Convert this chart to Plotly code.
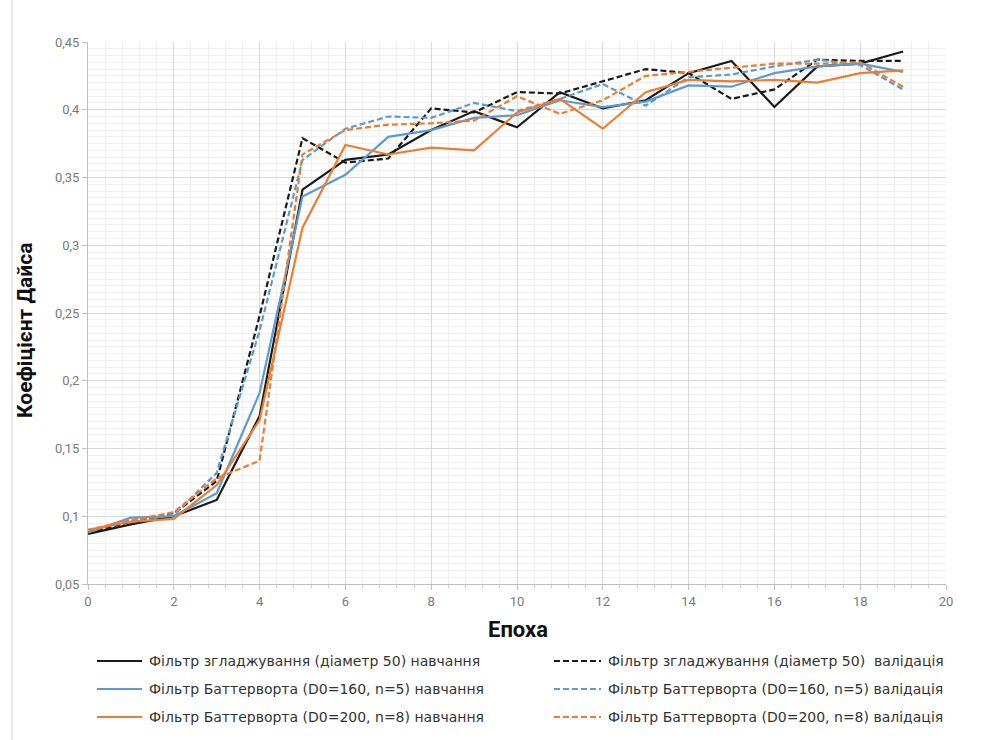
import plotly.graph_objects as go

# Epochs and Dice coefficient per model (training / validation)
epochs = list(range(20))

smooth_train = [0.087, 0.094, 0.100, 0.112, 0.174, 0.341, 0.363, 0.367, 0.385, 0.399,
                0.387, 0.413, 0.401, 0.407, 0.427, 0.436, 0.402, 0.432, 0.434, 0.443]
smooth_val = [0.088, 0.096, 0.102, 0.126, 0.248, 0.379, 0.361, 0.364, 0.401, 0.398,
              0.413, 0.412, 0.421, 0.430, 0.427, 0.408, 0.415, 0.437, 0.436, 0.436]
bw160_train = [0.088, 0.099, 0.100, 0.117, 0.191, 0.336, 0.352, 0.380, 0.385, 0.394,
               0.396, 0.407, 0.402, 0.406, 0.418, 0.417, 0.427, 0.432, 0.434, 0.428]
bw160_val = [0.089, 0.097, 0.101, 0.132, 0.237, 0.363, 0.386, 0.395, 0.394, 0.405,
             0.399, 0.408, 0.419, 0.403, 0.424, 0.426, 0.432, 0.437, 0.433, 0.415]
bw200_train = [0.090, 0.096, 0.098, 0.123, 0.171, 0.313, 0.374, 0.367, 0.372, 0.370,
               0.398, 0.408, 0.386, 0.413, 0.422, 0.421, 0.422, 0.420, 0.427, 0.429]
bw200_val = [0.090, 0.097, 0.103, 0.128, 0.141, 0.367, 0.385, 0.389, 0.390, 0.392,
             0.410, 0.397, 0.407, 0.425, 0.428, 0.431, 0.434, 0.434, 0.435, 0.417]

names = [
    "Фільтр згладжування (діаметр 50) навчання",
    "Фільтр згладжування (діаметр 50)  валідація",
    "Фільтр Баттерворта (D0=160, n=5) навчання",
    "Фільтр Баттерворта (D0=160, n=5) валідація",
    "Фільтр Баттерворта (D0=200, n=8) навчання",
    "Фільтр Баттерворта (D0=200, n=8) валідація",
]
series = [smooth_train, smooth_val, bw160_train, bw160_val, bw200_train, bw200_val]
colors = ["#1a1a1a", "#1a1a1a", "#5B9BD5", "#5B9BD5", "#ED7D31", "#ED7D31"]
dashes = ["solid", "6px,3px", "solid", "6px,3px", "solid", "6px,3px"]

W, H = 991, 740
L, R, T, B = 88, 45, 42, 156
PW, PH = W - L - R, H - T - B


def px_x(p):
    return (p - L) / PW


def px_y(p):
    return (H - B - p) / PH


fig = go.Figure()
for name, ys, c, d in zip(names, series, colors, dashes):
    fig.add_trace(go.Scatter(
        x=epochs, y=ys, mode="lines", name=name, showlegend=False,
        line=dict(color=c, width=2.2, dash=d),
    ))

tick_font = dict(family="Roboto, sans-serif", size=13, color="#7a7a7a")

fig.update_layout(
    width=W, height=H,
    margin=dict(l=L, r=R, t=T, b=B, autoexpand=False),
    paper_bgcolor="white", plot_bgcolor="white",
    separators=", ",
    showlegend=False,
    xaxis=dict(
        range=[0, 20], dtick=2, tick0=0,
        showgrid=True, gridcolor="#d9d9d9", gridwidth=1,
        minor=dict(dtick=0.4, showgrid=True, gridcolor="#efefef", ticks="outside",
                   ticklen=3, tickcolor="#cfcfcf"),
        ticks="outside", ticklen=5, tickcolor="#bfbfbf",
        showline=True, linecolor="#bfbfbf", linewidth=1,
        zeroline=False, tickfont=tick_font,
    ),
    yaxis=dict(
        range=[0.05, 0.45], dtick=0.05, tick0=0.05,
        showgrid=True, gridcolor="#d9d9d9", gridwidth=1,
        minor=dict(dtick=0.005, showgrid=True, gridcolor="#f0f0f0"),
        ticks="outside", ticklen=5, tickcolor="#bfbfbf",
        showline=True, linecolor="#bfbfbf", linewidth=1,
        zeroline=False, tickfont=tick_font,
    ),
)

# axis titles
fig.add_annotation(text="<b>Епоха</b>", xref="paper", yref="paper",
                   x=px_x(518), y=px_y(629), xanchor="center", yanchor="middle",
                   showarrow=False,
                   font=dict(family="Roboto, sans-serif", size=22, color="#111111"))
fig.add_annotation(text="<b>Коефіцієнт Дайса</b>", xref="paper", yref="paper",
                   x=px_x(25), y=px_y(331), xanchor="center", yanchor="middle",
                   showarrow=False, textangle=-90,
                   font=dict(family="Roboto, sans-serif", size=21, color="#111111"))

# legend: two columns (training | validation), three rows
rows_y = [661, 689, 717]
cols = [(97, 142, 147), (554, 601, 606)]
for i, (name, c, d) in enumerate(zip(names, colors, dashes)):
    row, col = divmod(i, 2)
    x0, x1, xt = cols[col]
    yy = px_y(rows_y[row])
    fig.add_shape(type="line", xref="paper", yref="paper",
                  x0=px_x(x0), x1=px_x(x1), y0=yy, y1=yy,
                  line=dict(color=c, width=2.2, dash=d))
    fig.add_annotation(text=name, xref="paper", yref="paper",
                       x=px_x(xt), y=yy, xanchor="left", yanchor="middle",
                       showarrow=False,
                       font=dict(family="DejaVu Sans, sans-serif", size=14, color="#333333"))

# chart frame edge on the left
fig.add_shape(type="line", xref="paper", yref="paper",
              x0=px_x(12), x1=px_x(12), y0=px_y(740), y1=px_y(0),
              line=dict(color="#d0d0d0", width=1))

fig.write_html("out.html")
